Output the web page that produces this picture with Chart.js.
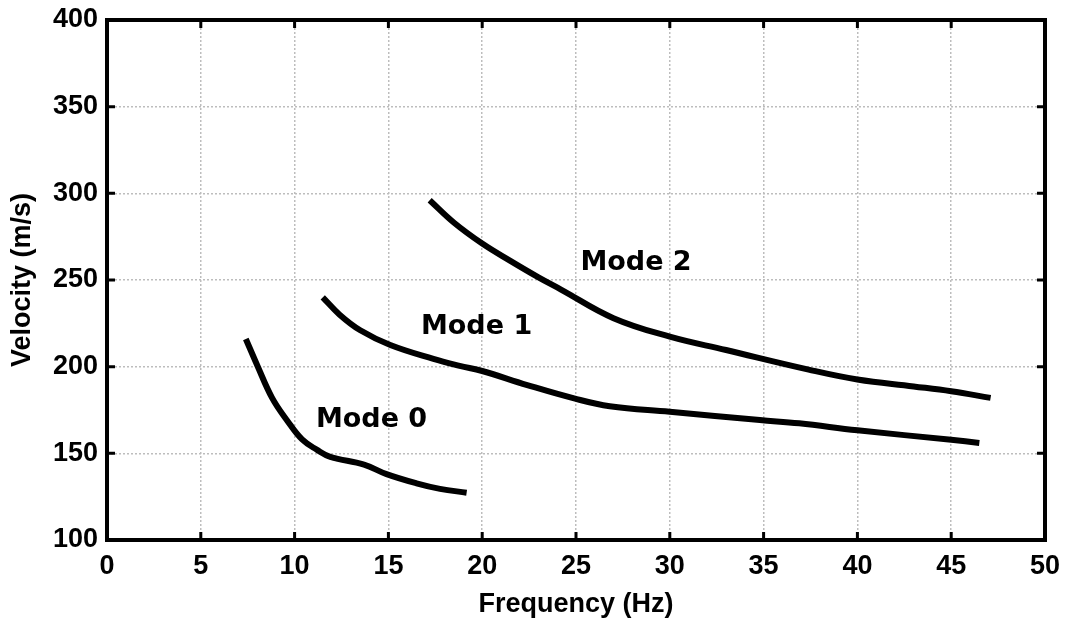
<!DOCTYPE html>
<html>
<head>
<meta charset="utf-8">
<script src="https://cdn.jsdelivr.net/npm/chart.js@4/dist/chart.umd.min.js"></script>
<style>
  html, body { margin: 0; padding: 0; background: #fff; }
  #wrap { width: 1066px; height: 625px; }
</style>
</head>
<body>
<div id="wrap"><canvas id="dispChart"></canvas></div>
<script>
// dispersion curves, frequency (Hz) vs phase velocity (m/s)
var mode0Freq = [7.4, 8.0, 8.8, 9.6, 10.4, 11.2, 11.9, 13.7, 14.9, 16.5, 17.75, 19.17];
var mode0Vel  = [216, 201, 182, 169, 158, 152, 148, 143.5, 138, 132.7, 129.5, 127.3];

var mode1Freq = [11.5, 12.4, 13.5, 15.1, 17.4, 18.8, 20.0, 22.4, 24.9, 26.8, 30.0, 34.8, 36.9, 40.0, 45.0, 46.5];
var mode1Vel  = [240, 230, 221, 212.5, 204.5, 200.5, 197.5, 189.4, 181.7, 177.2, 174, 169.2, 167.3, 163.3, 157.8, 156];

var mode2Freq = [17.2, 18.5, 20.0, 21.5, 23.0, 24.2, 27.0, 30.0, 33.0, 37.4, 40.0, 43.0, 45.0, 47.1];
var mode2Vel  = [296, 283, 271, 261, 251.5, 244.5, 228, 217.3, 209.6, 198.3, 192.6, 188.6, 185.8, 182];

var modeLabels = ['Mode 0', 'Mode 1', 'Mode 2'];
var labelFreq  = [14.1, 19.7, 28.2];
var labelVel   = [169, 223, 260];

var xTicks = [0, 5, 10, 15, 20, 25, 30, 35, 40, 45, 50];
var yTicks = [100, 150, 200, 250, 300, 350, 400];

function toPoints(xs, ys) {
    return xs.map(function (x, i) { return { x: x, y: ys[i] }; });
}

function curve(xs, ys) {
    return {
        data: toPoints(xs, ys),
        borderColor: '#000',
        borderWidth: 6,
        borderCapStyle: 'butt',
        borderJoinStyle: 'round',
        pointRadius: 0,
        tension: 0.4,
        fill: false
    };
}

// frame and inward tick marks on all four sides
var framePlugin = {
    id: 'frame',
    afterDraw: function (chart) {
        var ctx = chart.ctx, a = chart.chartArea;
        var xs = chart.scales.x, ys = chart.scales.y;
        ctx.save();
        ctx.strokeStyle = '#000';
        ctx.lineWidth = 3;
        xTicks.forEach(function (v) {
            var px = xs.getPixelForValue(v);
            ctx.beginPath();
            ctx.moveTo(px, a.bottom); ctx.lineTo(px, a.bottom - 8);
            ctx.moveTo(px, a.top); ctx.lineTo(px, a.top + 8);
            ctx.stroke();
        });
        yTicks.forEach(function (v) {
            var py = ys.getPixelForValue(v);
            ctx.beginPath();
            ctx.moveTo(a.left, py); ctx.lineTo(a.left + 8, py);
            ctx.moveTo(a.right, py); ctx.lineTo(a.right - 8, py);
            ctx.stroke();
        });
        ctx.lineWidth = 4;
        ctx.strokeRect(a.left, a.top, a.right - a.left, a.bottom - a.top);
        ctx.restore();
    }
};

var labelPlugin = {
    id: 'modeLabels',
    afterDatasetsDraw: function (chart) {
        var ctx = chart.ctx;
        var xs = chart.scales.x, ys = chart.scales.y;
        ctx.save();
        ctx.fillStyle = '#000';
        ctx.font = 'bold 27px "DejaVu Sans"';
        ctx.textAlign = 'center';
        ctx.textBaseline = 'middle';
        modeLabels.forEach(function (t, i) {
            ctx.fillText(t, xs.getPixelForValue(labelFreq[i]), ys.getPixelForValue(labelVel[i]));
        });
        ctx.restore();
    }
};

var axisFont = '"Liberation Sans", Arial, sans-serif';

var el = document.getElementById('dispChart').getContext('2d');
var dispChart = new Chart(el, {
    type: 'line',
    data: {
        datasets: [
            curve(mode0Freq, mode0Vel),
            curve(mode1Freq, mode1Vel),
            curve(mode2Freq, mode2Vel)
        ]
    },
    options: {
        responsive: true,
        maintainAspectRatio: false,
        animation: false,
        layout: { padding: { left: 0, top: 20, right: 21, bottom: 0 } },
        plugins: {
            legend: { display: false },
            tooltip: { enabled: false }
        },
        scales: {
            x: {
                type: 'linear',
                min: 0,
                max: 50,
                afterBuildTicks: function (s) { s.ticks = xTicks.map(function (v) { return { value: v }; }); },
                afterFit: function (s) { s.height = 85; s.paddingLeft = 0; s.paddingRight = 0; },
                ticks: {
                    color: '#000',
                    padding: 10,
                    maxRotation: 0,
                    font: { family: axisFont, size: 27, weight: 'bold' }
                },
                grid: { color: '#bdbdbd', lineWidth: 1.5, drawTicks: false },
                border: { display: false, dash: [2, 2] },
                title: {
                    display: true,
                    text: 'Frequency (Hz)',
                    color: '#000',
                    padding: { top: 0, bottom: 4 },
                    font: { family: axisFont, size: 27, weight: 'bold' }
                }
            },
            y: {
                type: 'linear',
                min: 100,
                max: 400,
                afterBuildTicks: function (s) { s.ticks = yTicks.map(function (v) { return { value: v }; }); },
                afterFit: function (s) { s.width = 107; s.paddingTop = 0; s.paddingBottom = 0; },
                ticks: {
                    color: '#000',
                    padding: 9,
                    font: { family: axisFont, size: 27, weight: 'bold' }
                },
                grid: { color: '#bdbdbd', lineWidth: 1.5, drawTicks: false },
                border: { display: false, dash: [2, 2] },
                title: {
                    display: true,
                    text: 'Velocity (m/s)',
                    color: '#000',
                    padding: { top: 6, bottom: 0 },
                    font: { family: axisFont, size: 27, weight: 'bold' }
                }
            }
        }
    },
    plugins: [framePlugin, labelPlugin]
});
</script>
</body>
</html>
